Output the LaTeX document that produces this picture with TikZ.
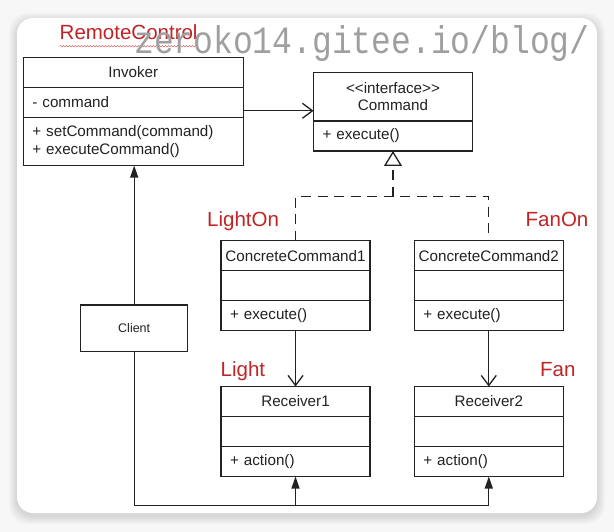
\documentclass[tikz,border=0pt]{standalone}
\usepackage{fontspec}
\setmainfont{Liberation Sans}
\newfontfamily\markfont{Liberation Mono}
\usetikzlibrary{positioning,arrows.meta,decorations.pathmorphing}
\definecolor{labred}{RGB}{192,36,38}
\definecolor{ink}{RGB}{34,34,34}

\begin{document}
\begin{tikzpicture}[x=1pt,y=-1pt,
  cell/.style={draw=ink,line width=1.4pt,inner sep=0pt,outer sep=0pt,text=ink,
               font=\fontsize{15.2}{17.6}\selectfont,minimum height=30pt},
  hcell/.style={cell,minimum width=#1,align=center},
  mcell/.style={cell,text width=#1,inner xsep=9pt,align=left},
  lab/.style={text=labred,font=\fontsize{20.5}{24}\selectfont,anchor=base west,inner sep=0pt},
  link/.style={draw=ink,line width=1.3pt},
  linkto/.style={link,-{Triangle[length=12pt,width=8pt]}},
  assoc/.style={link,-{Straight Barb[length=10pt,width=15pt,line width=1.3pt]}},
  realize/.style={link,dash pattern=on 10pt off 6.5pt,
                  -{Triangle[open,length=15pt,width=18pt,line width=1.3pt]}}
]
  \useasboundingbox (0,0) rectangle (614,532);

  % karte mit schatten
  \fill[gray!6] (0,0) rectangle (614,532);
  \foreach \s in {1,...,8}
    \fill[black,opacity=0.014,rounded corners=18pt] (17-\s,21-\s) rectangle (597+\s,516+\s);
  \fill[white,rounded corners=16pt] (17,18) rectangle (597,513);

  % invoker
  \node[hcell=220pt,anchor=north] (invT) at (133.3,57.3) {Invoker};
  \node[mcell=202pt,below=0pt of invT] (invA) {- command};
  \node[mcell=202pt,minimum height=48.3pt,below=0pt of invA] (invM)
       {+ setCommand(command)\\+ executeCommand()};

  % command interface
  \node[hcell=159pt,minimum height=48.7pt,anchor=north] (cmdT) at (393,72.3)
       {<\kern0pt<interface>\kern0pt>\\Command};
  \node[mcell=141pt,below=0pt of cmdT] (cmdM) {+ execute()};

  % concrete commands
  \node[hcell=149pt,anchor=north] (cc1T) at (295.5,240.7) {ConcreteCommand1};
  \node[mcell=131pt,below=0pt of cc1T] (cc1A) {};
  \node[mcell=131pt,below=0pt of cc1A] (cc1M) {+ execute()};
  \node[hcell=149pt,anchor=north] (cc2T) at (488.8,240.7) {ConcreteCommand2};
  \node[mcell=131pt,below=0pt of cc2T] (cc2A) {};
  \node[mcell=131pt,below=0pt of cc2A] (cc2M) {+ execute()};

  % receivers
  \node[hcell=149pt,anchor=north] (r1T) at (295.5,386.5) {Receiver1};
  \node[mcell=131pt,below=0pt of r1T] (r1A) {};
  \node[mcell=131pt,below=0pt of r1A] (r1M) {+ action()};
  \node[hcell=149pt,anchor=north] (r2T) at (488.8,386.5) {Receiver2};
  \node[mcell=131pt,below=0pt of r2T] (r2A) {};
  \node[mcell=131pt,below=0pt of r2A] (r2M) {+ action()};

  % client
  \node[cell,minimum width=107pt,minimum height=46.7pt,anchor=north,
        font=\fontsize{12.5}{14}\selectfont] (cli) at (134.2,305) {Client};

  % verbindungen
  \draw[assoc] ([yshift=-8.5pt]invA.east) coordinate (a1) -- (a1 -| cmdT.west);
  \coordinate (fork) at (cmdM.south |- 0,196.7);
  \draw[link,dash pattern=on 10pt off 6.5pt] (cc1T.north) |- (fork) -| (cc2T.north);
  \draw[realize] (fork) -- (cmdM.south);
  \draw[assoc] (cc1M.south) -- (r1T.north);
  \draw[assoc] (cc2M.south) -- (r2T.north);
  \draw[linkto] (cli.north) -- (cli.north |- invM.south);
  \coordinate (bus) at (cli.south |- 0,505.5);
  \draw[link] (cli.south) -- (bus) -- (bus -| r2M.south);
  \draw[linkto] (bus -| r1M.south) -- (r1M.south);
  \draw[linkto] (bus -| r2M.south) -- (r2M.south);

  % rote beschriftungen
  \node[lab] (rc) at (59.5,39.3) {RemoteControl};
  \draw[labred!70,line width=0.5pt,decorate,decoration={snake,amplitude=0.8pt,segment length=3pt}]
       ([yshift=-7pt]rc.base west) -- ([yshift=-7pt]rc.base east);
  \node[lab] (lighton) at (207,227) {LightOn};
  \node[lab] (fanon) at (525.5,227) {FanOn};
  \node[lab] (light) at (220.5,376.7) {Light};
  \node[lab] (fan) at (540,376.7) {Fan};

  % wasserzeichen
  \node[anchor=base west,inner sep=0pt,text=gray!75,yscale=1.17,
        font=\markfont\fontsize{33}{33}\selectfont] (mark) at (134,53.3) {zeroko14.gitee.io/blog/};
\end{tikzpicture}
\end{document}
